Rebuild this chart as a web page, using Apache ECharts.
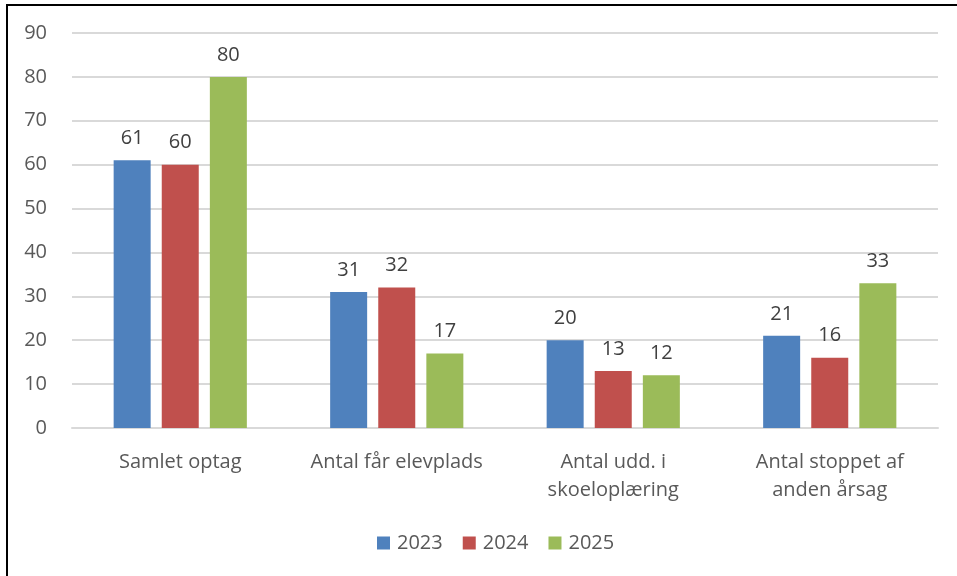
<!DOCTYPE html>
<html><head><meta charset="utf-8">
<script src="https://cdn.jsdelivr.net/npm/echarts@6/dist/echarts.min.js"></script>
<style>html,body{margin:0;padding:0;background:#fff}#c{width:957px;height:576px}</style>
</head><body><div id="c"></div>
<script>
const categories = ['Samlet optag', 'Antal får elevplads', 'Antal udd. i\nskoeloplæring', 'Antal stoppet af\nanden årsag'];
const s2023 = [61, 31, 20, 21];
const s2024 = [60, 32, 13, 16];
const s2025 = [80, 17, 12, 33];
const seriesNames = ['2023', '2024', '2025'];
const colors = ['#4F81BD', '#C0504D', '#9BBB59'];
const FONT = 'Open Sans';
const chart = echarts.init(document.getElementById('c'));
const lbl = {show: true, position: 'top', distance: 12, color: '#404040', fontSize: 20, fontFamily: FONT};
chart.setOption({
  animation: false,
  textStyle: {fontFamily: FONT},
  grid: {left: 72, right: 19, top: 33, bottom: 148},
  legend: {
    data: seriesNames, top: 528, left: 372, itemWidth: 13, itemHeight: 13, itemGap: 20,
    icon: 'rect', textStyle: {color: '#595959', fontSize: 20, fontFamily: FONT, padding: [0, 0, 0, 2]}
  },
  xAxis: {
    type: 'category', data: categories,
    axisLine: {lineStyle: {color: '#d9d9d9', width: 2}}, axisTick: {show: false},
    axisLabel: {color: '#595959', fontSize: 20, lineHeight: 28, margin: 20, fontFamily: FONT, interval: 0}
  },
  yAxis: {
    type: 'value', min: 0, max: 90, interval: 10,
    axisLine: {show: false}, axisTick: {show: false},
    splitLine: {lineStyle: {color: '#d9d9d9', width: 2}},
    axisLabel: {color: '#595959', fontSize: 20, margin: 25, fontFamily: FONT}
  },
  series: [
    {name: seriesNames[0], type: 'bar', data: s2023, barWidth: 37, barGap: '30%', itemStyle: {color: colors[0]}, label: lbl},
    {name: seriesNames[1], type: 'bar', data: s2024, barWidth: 37, barGap: '30%', itemStyle: {color: colors[1]}, label: lbl},
    {name: seriesNames[2], type: 'bar', data: s2025, barWidth: 37, barGap: '30%', itemStyle: {color: colors[2]}, label: lbl}
  ],
  graphic: [
    {type: 'line', shape: {x1: 7, y1: 5, x2: 7, y2: 576}, style: {stroke: '#000', lineWidth: 2}},
    {type: 'line', shape: {x1: 6, y1: 5, x2: 957, y2: 5}, style: {stroke: '#000', lineWidth: 2}}
  ]
});
</script></body></html>
